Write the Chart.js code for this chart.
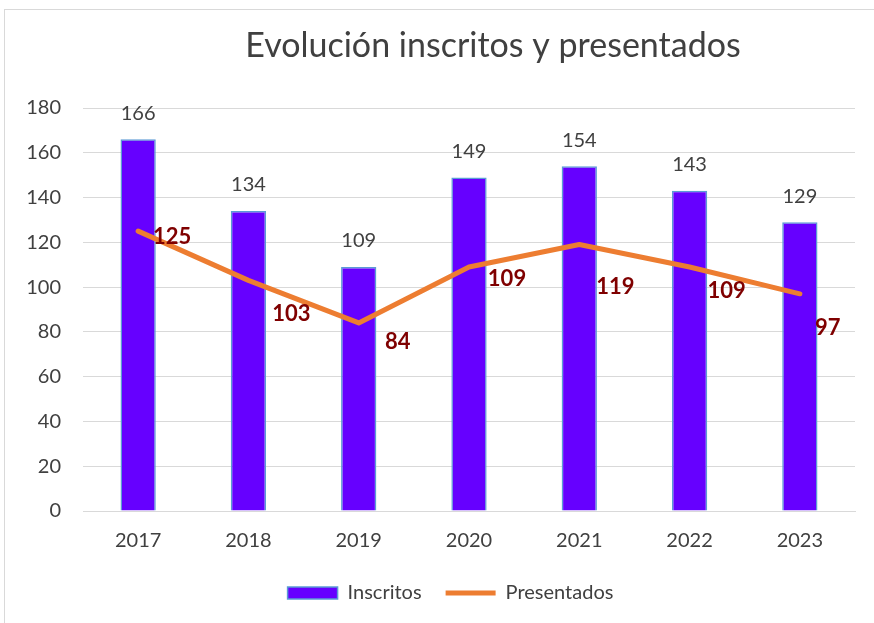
<!DOCTYPE html>
<html>
<head>
<meta charset="utf-8">
<script src="https://cdn.jsdelivr.net/npm/chart.js@4"></script>
<style>
  html, body { margin: 0; padding: 0; background: #fff; overflow: hidden; }
  #frame { position: absolute; left: 4px; top: 9px; width: 900px; height: 700px; border: 1px solid #d9d9d9; }
  #wrap { position: absolute; left: 0; top: 0; width: 874px; height: 623px; }
</style>
</head>
<body>
<div id="frame"></div>
<div id="wrap"><canvas id="grafico" width="874" height="623"></canvas></div>
<script>
const anios = ['2017', '2018', '2019', '2020', '2021', '2022', '2023'];
const inscritos = [166, 134, 109, 149, 154, 143, 129];
const presentados = [125, 103, 84, 109, 119, 109, 97];
const titulo = 'Evolución inscritos y presentados';

// desplazamiento de las etiquetas de la línea (como quedaron en el original)
const despX = [34, 43, 39, 38, 36, 37, 28];
const despY = [6, 34, 19, 12, 42, 24, 34];

const fuente = 'Lato, "Liberation Sans", sans-serif';

const etiquetas = {
  id: 'etiquetas',
  afterLayout(chart) {
    // la leyenda del original no está centrada en el lienzo
    chart.legend.left += 18;
    chart.legend.right += 18;
  },
  afterDatasetsDraw(chart) {
    const ctx = chart.ctx;
    ctx.save();
    ctx.textAlign = 'center';
    ctx.textBaseline = 'middle';
    // valores de las barras
    ctx.font = '20px ' + fuente;
    ctx.fillStyle = '#404040';
    chart.getDatasetMeta(1).data.forEach((el, i) => {
      ctx.fillText(String(inscritos[i]), el.x, el.y - 26);
    });
    // valores de la línea
    ctx.font = 'bold 22px ' + fuente;
    ctx.fillStyle = '#7f0000';
    chart.getDatasetMeta(0).data.forEach((el, i) => {
      ctx.fillText(String(presentados[i]), el.x + despX[i], el.y + despY[i]);
    });
    // título
    ctx.font = '34px ' + fuente;
    ctx.fillStyle = '#404040';
    ctx.fillText(titulo, 493, 46);
    ctx.restore();
  }
};

new Chart(document.getElementById('grafico').getContext('2d'), {
  data: {
    labels: anios,
    datasets: [
      {
        type: 'line',
        label: 'Presentados',
        data: presentados,
        borderColor: '#ed7d31',
        backgroundColor: '#ed7d31',
        borderWidth: 5,
        borderCapStyle: 'round',
        borderJoinStyle: 'round',
        pointRadius: 0,
        pointStyle: 'line',
        tension: 0,
        order: 0
      },
      {
        type: 'bar',
        label: 'Inscritos',
        data: inscritos,
        backgroundColor: '#6600ff',
        borderColor: '#5b9bd5',
        borderWidth: 1.5,
        pointStyle: 'rect',
        barPercentage: 0.64,
        categoryPercentage: 0.5,
        order: 1
      }
    ]
  },
  options: {
    responsive: false,
    animation: false,
    layout: { padding: { left: 10, right: 19, top: 108, bottom: 10 } },
    scales: {
      x: {
        grid: { display: false, drawTicks: false },
        border: { color: '#d9d9d9' },
        ticks: { color: '#404040', font: { size: 20, family: fuente }, padding: 18 },
        afterFit: s => { s.height = 48; }
      },
      y: {
        min: 0, max: 180,
        grid: { color: '#d9d9d9', drawTicks: false },
        border: { display: false },
        ticks: { stepSize: 20, color: '#404040', font: { size: 20, family: fuente }, padding: 22 },
        afterFit: s => { s.width = 73; }
      }
    },
    plugins: {
      title: { display: false },
      tooltip: { enabled: false },
      legend: {
        position: 'bottom',
        reverse: true,
        labels: {
          usePointStyle: true,
          pointStyleWidth: 50,
          boxHeight: 12,
          padding: 24,
          color: '#404040',
          font: { size: 20, family: fuente }
        }
      }
    }
  },
  plugins: [etiquetas]
});
</script>
</body>
</html>
